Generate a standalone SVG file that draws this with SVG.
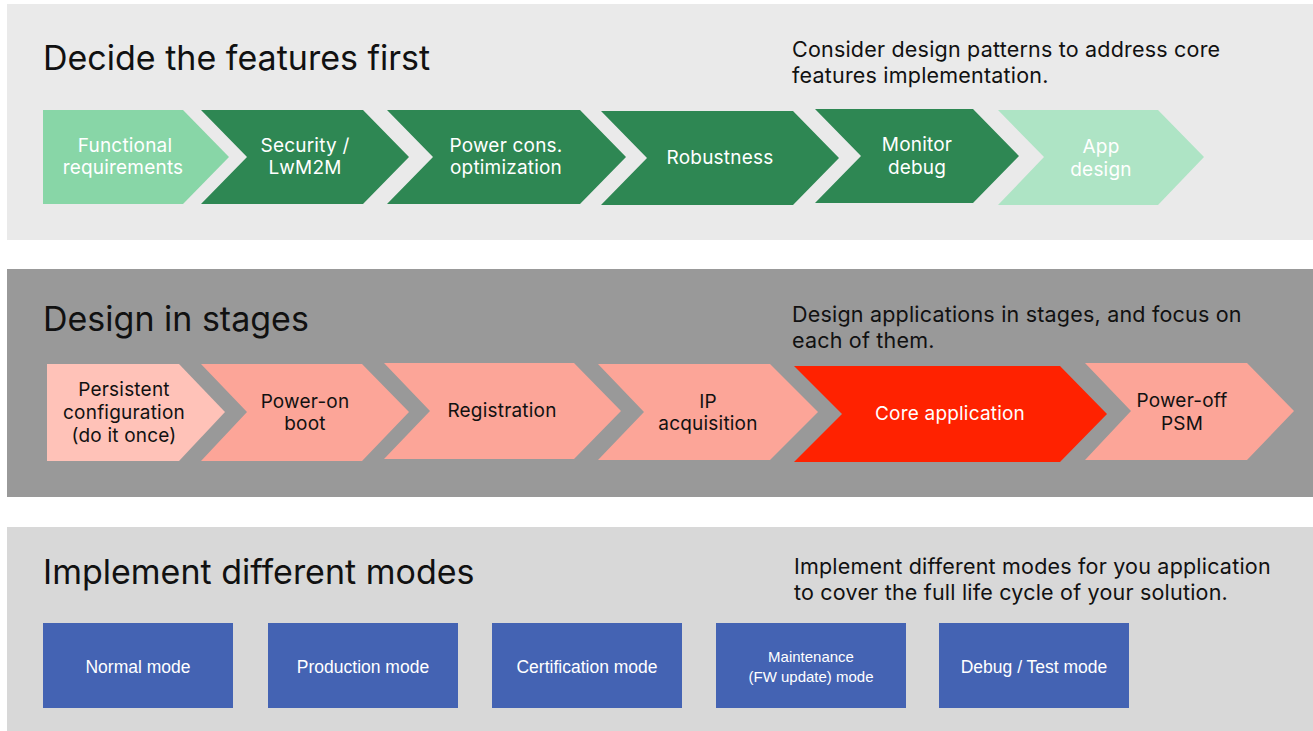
<svg xmlns="http://www.w3.org/2000/svg" width="1313" height="731" viewBox="0 0 1313 731">
<style>
.title{font-family:Inter,"Liberation Sans",sans-serif;font-size:34px;fill:#111}
.desc{font-family:Inter,"Liberation Sans",sans-serif;font-size:21.5px;letter-spacing:0.2px;fill:#111}
.cl{font-family:Inter,"Liberation Sans",sans-serif;font-size:19px;letter-spacing:0.2px;text-anchor:middle}
.w{fill:#fff}
.k{fill:#111}
.bx{fill:#4463B3}
.bl{font-family:"Liberation Sans",sans-serif;font-size:17.5px;fill:#fff;text-anchor:middle}
.bs{font-family:"Liberation Sans",sans-serif;font-size:15px;fill:#fff;text-anchor:middle}
</style>
<rect width="1313" height="731" fill="#fff"/>
<g id="panel1">
<rect x="7" y="4" width="1306" height="236" fill="#EAEAEA"/>
<text class="title" x="43" y="70">Decide the features first</text>
<text class="desc" x="792" y="57">Consider design patterns to address core</text>
<text class="desc" x="792" y="83">features implementation.</text>
</g>
<g id="panel2">
<rect x="7" y="269" width="1306" height="228" fill="#999999"/>
<text class="title" x="43" y="331">Design in stages</text>
<text class="desc" x="792" y="322">Design applications in stages, and focus on</text>
<text class="desc" x="792" y="348">each of them.</text>
</g>
<g id="panel3">
<rect x="7" y="527" width="1306" height="204" fill="#D8D8D8"/>
<text class="title" x="43" y="584">Implement different modes</text>
<text class="desc" x="794" y="574">Implement different modes for you application</text>
<text class="desc" x="794" y="600">to cover the full life cycle of your solution.</text>
</g>
<g id="f1"><polygon points="43,110 183,110 229,157 183,204 43,204" fill="#88D6A7"/>
<text class="cl w" x="125" y="152">Functional</text><text class="cl w" x="123" y="174">requirements</text></g>
<g id="f2"><polygon points="201,110 363,110 409,157 363,204 201,204 247,157" fill="#2E8753"/>
<text class="cl w" x="305" y="152">Security /</text><text class="cl w" x="305" y="174">LwM2M</text></g>
<g id="f3"><polygon points="387,110 580,110 626,157 580,204 387,204 433,157" fill="#2E8753"/>
<text class="cl w" x="506" y="152">Power cons.</text><text class="cl w" x="506" y="174">optimization</text></g>
<g id="f4"><polygon points="601,111 793,111 839,158 793,205 601,205 647,158" fill="#2E8753"/>
<text class="cl w" x="720" y="164">Robustness</text></g>
<g id="f5"><polygon points="815,109 973,109 1019,156 973,203 815,203 861,156" fill="#2E8753"/>
<text class="cl w" x="917" y="151">Monitor</text><text class="cl w" x="917" y="174">debug</text></g>
<g id="f6"><polygon points="998,110 1158,110 1204,157 1158,205 998,205 1044,157" fill="#AEE4C5"/>
<text class="cl w" x="1101" y="153">App</text><text class="cl w" x="1101" y="176">design</text></g>
<g id="s1"><polygon points="47,364 179,364 225,412 179,461 47,461" fill="#FFC2B8"/>
<text class="cl k" x="124" y="396">Persistent</text><text class="cl k" x="124" y="419">configuration</text><text class="cl k" x="124" y="442">(do it once)</text></g>
<g id="s2"><polygon points="201,364 362,364 409,412 362,461 201,461 247,412" fill="#FCA598"/>
<text class="cl k" x="305" y="408">Power-on</text><text class="cl k" x="305" y="430">boot</text></g>
<g id="s3"><polygon points="384,363 574,363 621,411 574,459 384,459 430,411" fill="#FCA598"/>
<text class="cl k" x="502" y="417">Registration</text></g>
<g id="s4"><polygon points="598,364 770,364 818,412 770,460 598,460 644,412" fill="#FCA598"/>
<text class="cl k" x="708" y="408">IP</text><text class="cl k" x="708" y="430">acquisition</text></g>
<g id="s5"><polygon points="794,366 1060,366 1107,414 1060,462 794,462 842,414" fill="#FF2200"/>
<text class="cl w" x="950" y="420">Core application</text></g>
<g id="s6"><polygon points="1085,363 1247,363 1294,411 1247,460 1085,460 1131,411" fill="#FCA598"/>
<text class="cl k" x="1182" y="407">Power-off</text><text class="cl k" x="1182" y="430">PSM</text></g>
<g id="m1"><rect class="bx" x="43" y="623" width="190" height="85"/><text class="bl" x="138" y="673">Normal mode</text></g>
<g id="m2"><rect class="bx" x="268" y="623" width="190" height="85"/><text class="bl" x="363" y="673">Production mode</text></g>
<g id="m3"><rect class="bx" x="492" y="623" width="190" height="85"/><text class="bl" x="587" y="673">Certification mode</text></g>
<g id="m4"><rect class="bx" x="716" y="623" width="190" height="85"/><text class="bs" x="811" y="662">Maintenance</text><text class="bs" x="811" y="682">(FW update) mode</text></g>
<g id="m5"><rect class="bx" x="939" y="623" width="190" height="85"/><text class="bl" x="1034" y="673">Debug / Test mode</text></g>
<g id="connectors"></g>
</svg>
